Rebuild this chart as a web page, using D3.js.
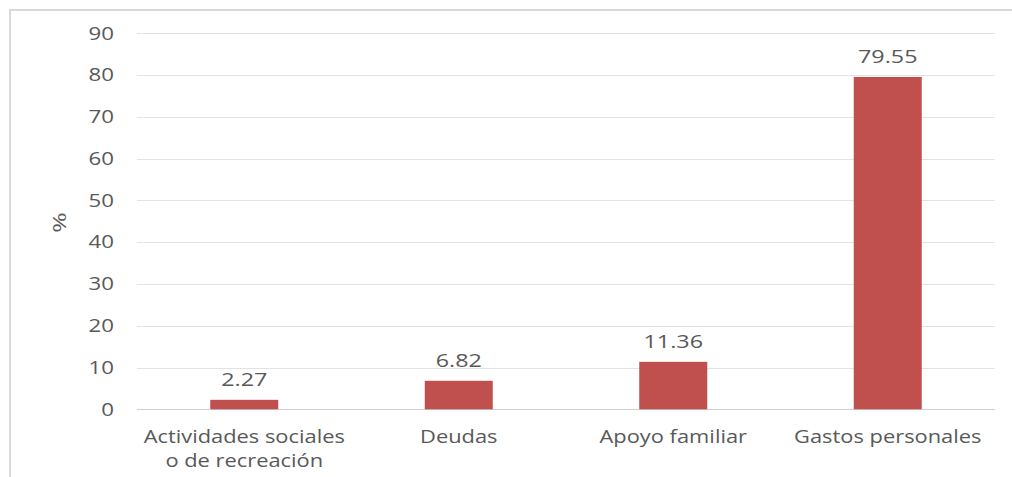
<!DOCTYPE html>
<html><head><meta charset="utf-8">
<script src="https://cdn.jsdelivr.net/npm/d3@7"></script>
<style>body{margin:0;background:#fff}svg{display:block}</style>
</head><body>
<svg id="c" width="1012" height="477"></svg>
<script>
const categories = [["Actividades sociales","o de recreación"],["Deudas"],["Apoyo familiar"],["Gastos personales"]];
const values = [2.27, 6.82, 11.36, 79.55];
const valueLabels = ["2.27","6.82","11.36","79.55"];
const yTicks = [0,10,20,30,40,50,60,70,80,90];
const yTitle = "%";

const svg = d3.select("#c");
const font = "Open Sans, Noto Sans, sans-serif";
const txt = "#595959";

svg.append("rect").attr("x",10).attr("y",10).attr("width",1012).attr("height",480)
  .attr("fill","none").attr("stroke","#d9d9d9").attr("stroke-width",2);

const x = d3.scaleBand().domain(d3.range(categories.length)).range([137,995]).paddingInner(0.683).paddingOuter(0.3415);
const y = d3.scaleLinear().domain([0,90]).range([409.3,33.3]);

svg.append("g").selectAll("line").data(yTicks).join("line")
  .attr("x1",137).attr("x2",995).attr("y1",d=>Math.round(y(d))+0.5).attr("y2",d=>Math.round(y(d))+0.5)
  .attr("stroke",d=>d===0?"#d0d0d0":"#e3e3e3").attr("stroke-width",1);

svg.append("g").selectAll("text").data(yTicks).join("text")
  .attr("transform",d=>`translate(114,${y(d)}) scale(1.27,1)`).attr("dy","0.36em").attr("text-anchor","end")
  .attr("font-family",font).attr("font-size",17.5).attr("fill",txt).text(d=>d);

svg.append("text").attr("transform","translate(59,222.5) rotate(-90) scale(1.3,1)").attr("text-anchor","middle")
  .attr("dy","0.36em").attr("font-family",font).attr("font-size",19).attr("fill",txt).text(yTitle);

svg.append("g").selectAll("rect").data(values).join("rect")
  .attr("x",(d,i)=>x(i)).attr("width",x.bandwidth()).attr("y",d=>y(d)).attr("height",d=>y(0)-y(d))
  .attr("fill","#c0504d");

svg.append("g").selectAll("text").data(values).join("text")
  .attr("transform",(d,i)=>`translate(${x(i)+x.bandwidth()/2},${y(d)-14}) scale(1.26,1)`).attr("text-anchor","middle")
  .attr("font-family",font).attr("font-size",18.5).attr("fill",txt).text((d,i)=>valueLabels[i]);

const cg = svg.append("g").selectAll("text").data(categories).join("text")
  .attr("transform",(d,i)=>`translate(${x(i)+x.bandwidth()/2},443) scale(1.25,1)`).attr("text-anchor","middle")
  .attr("font-family",font).attr("font-size",17.5).attr("fill",txt);
cg.selectAll("tspan").data(d=>d.map((t,j)=>({t,j}))).join("tspan")
  .attr("x",0).attr("dy",d=>d.j===0?0:24).text(d=>d.t);
</script>
</body></html>
